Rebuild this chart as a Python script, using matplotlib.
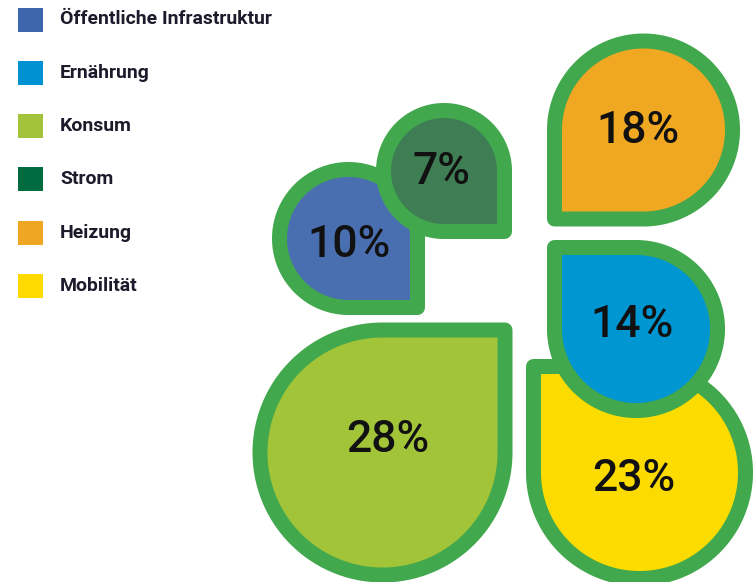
import numpy as np
import matplotlib.pyplot as plt
from matplotlib.path import Path
from matplotlib.patches import PathPatch, Rectangle

# Anteile am CO2-Fußabdruck (Prozent)
categories = ["Öffentliche Infrastruktur", "Ernährung", "Konsum", "Strom", "Heizung", "Mobilität"]
values = [10, 14, 28, 7, 18, 23]
legend_colors = ["#3d66ae", "#0091d3", "#a3c43a", "#006b3e", "#efa623", "#ffda00"]
fill_colors = ["#4a6fb0", "#0096d2", "#a2c439", "#3f7d55", "#f0a721", "#fcdb00"]
border = "#42a84d"

# layout in pixels: centre, outer radius, square-corner quadrant (0=bottom-right,1=bottom-left,2=top-left,3=top-right)
centers = [(348.5, 238.5), (636, 329), (382.5, 452.5), (444, 171), (643.5, 130), (639.5, 472.5)]
radii = [76.5, 89, 130, 68, 96.5, 113.5]
corners = [0, 2, 3, 0, 1, 2]
label_pos = [(349, 245), (632, 325), (388, 440), (441, 172), (638, 131), (634, 479)]
draw_order = [2, 5, 1, 0, 3, 4]

stroke = 15  # px


def drop_path(cx, cy, r, q):
    a = np.deg2rad(90 * q)
    t = np.linspace(a + np.pi / 2, a + 2 * np.pi, 200)
    pts = list(zip(cx + r * np.cos(t), cy + r * np.sin(t)))
    m = a + np.pi / 4
    pts.append((cx + r * np.sqrt(2) * np.cos(m), cy + r * np.sqrt(2) * np.sin(m)))
    pts.append(pts[0])
    codes = [Path.MOVETO] + [Path.LINETO] * (len(pts) - 2) + [Path.CLOSEPOLY]
    return Path(pts, codes)


fig = plt.figure(figsize=(7.54, 5.82), dpi=100)
ax = fig.add_axes([0, 0, 1, 1])
ax.set_xlim(0, 754)
ax.set_ylim(582, 0)
ax.axis("off")

lw = stroke * 72 / 100
for i in draw_order:
    cx, cy = centers[i]
    p = drop_path(cx, cy, radii[i] - stroke / 2, corners[i])
    ax.add_patch(PathPatch(p, facecolor=fill_colors[i], edgecolor=border,
                           linewidth=lw, joinstyle="round"))
    ax.text(label_pos[i][0], label_pos[i][1], f"{values[i]}%", ha="center", va="center",
            fontsize=32, fontweight="medium", color="#111111",
            family=["Roboto", "DejaVu Sans"])

# legend
texts = []
for k, (name, col) in enumerate(zip(categories, legend_colors)):
    y = 19.5 + k * 53.3
    ax.add_patch(Rectangle((18, y - 12), 25, 24, facecolor=col, edgecolor="none"))
    texts.append(ax.text(60, y, name, ha="left", va="center", fontsize=16, fontweight="bold",
                         color="#1b1b2b", family=["Roboto", "DejaVu Sans"]))

# shrink legend font so the longest label spans about 212 px as in the original
r = fig.canvas.get_renderer()
w = texts[0].get_window_extent(r).width
for t in texts:
    t.set_fontsize(16 * 212 / w)

fig.savefig("out.png", dpi=100)
